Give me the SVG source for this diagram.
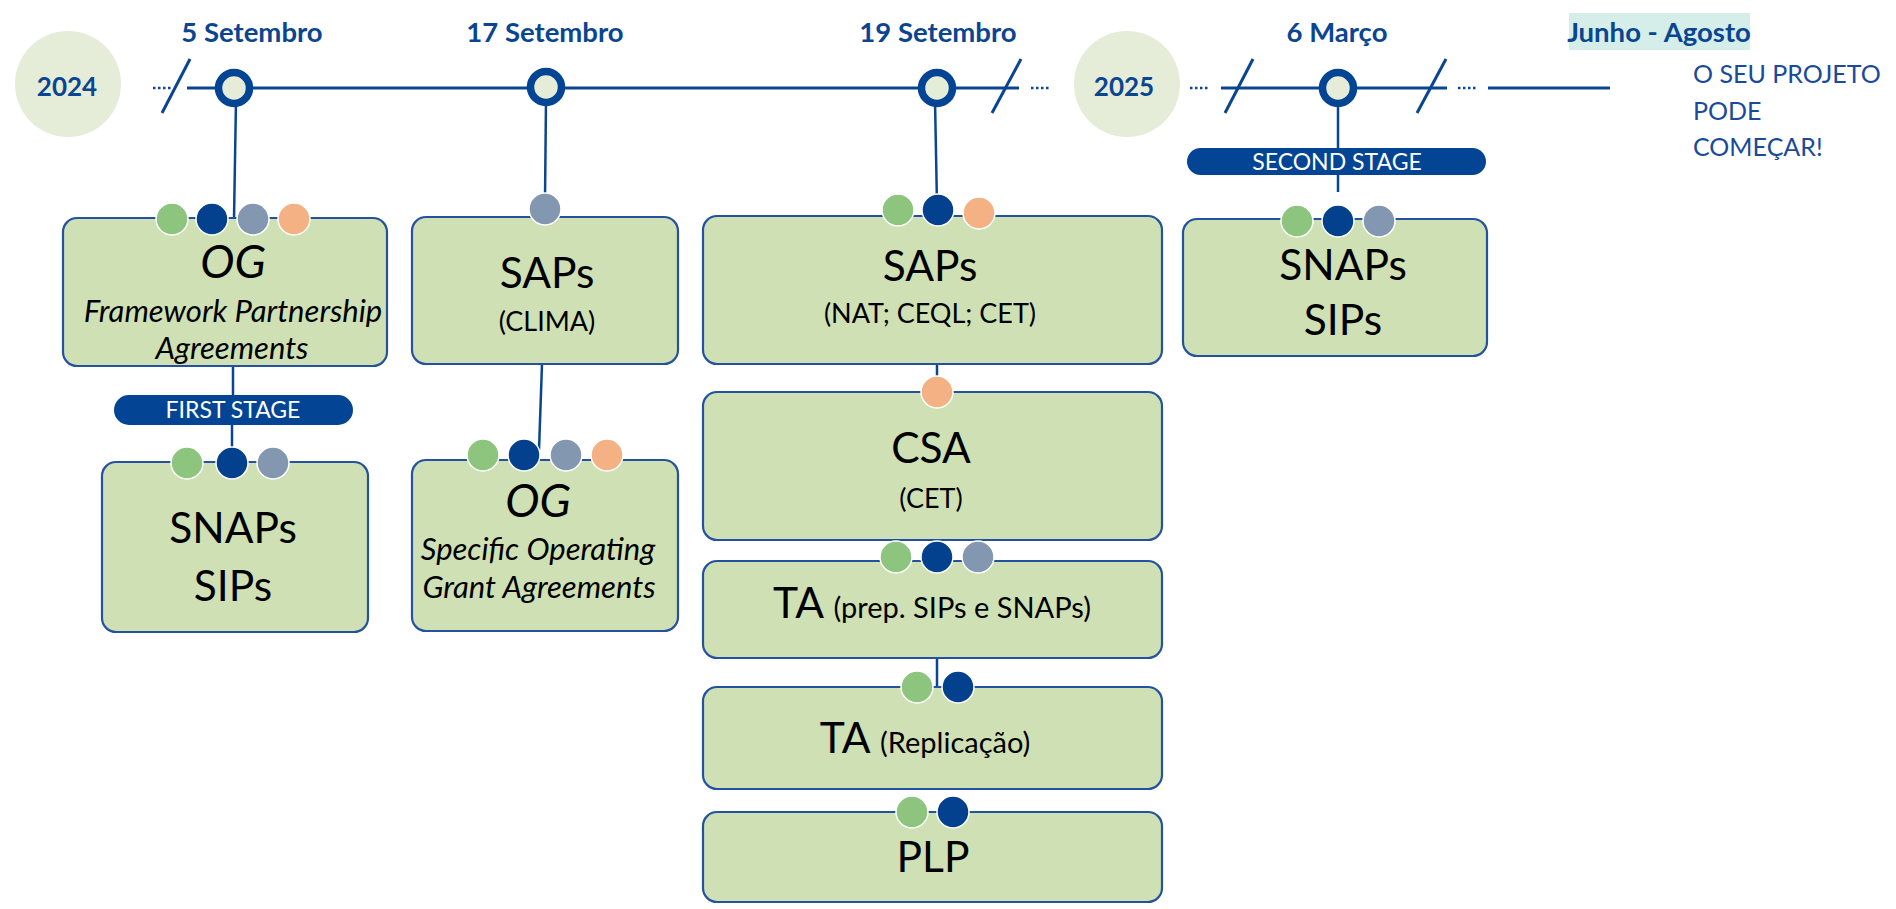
<svg xmlns="http://www.w3.org/2000/svg" width="1896" height="909" viewBox="0 0 1896 909">
<style>
.date{font-family:Lato,"Liberation Sans",sans-serif;font-weight:bold;font-size:27.5px;fill:#0A4592;text-anchor:middle}
.year{font-family:Lato,"Liberation Sans",sans-serif;font-weight:bold;font-size:26px;fill:#0A4592;text-anchor:middle}
.box{fill:#CFE0B4;stroke:#2452A0;stroke-width:2.2}
.big{font-family:Lato,"Liberation Sans",sans-serif;font-size:42.5px;fill:#000;text-anchor:middle}
.sub{font-family:Lato,"Liberation Sans",sans-serif;font-size:27px;fill:#000;text-anchor:middle}
.it{font-family:Lato,"Liberation Sans",sans-serif;font-style:italic;font-size:31px;fill:#000;text-anchor:middle}
.itbig{font-family:Lato,"Liberation Sans",sans-serif;font-style:italic;font-size:46px;fill:#000;text-anchor:middle}
.pill{fill:#034494}
.pilltxt{font-family:Lato,"Liberation Sans",sans-serif;font-size:23px;fill:#fff;text-anchor:middle}
.line{stroke:#0A4592;stroke-width:3;fill:none}
.conn{stroke:#0A4592;stroke-width:2.5;fill:none}
.dots{stroke:#0A4592;stroke-width:2.5;stroke-dasharray:2.5 2.5;fill:none}
.node{fill:#E5EDD8;stroke:#034494;stroke-width:7.5}
.g{fill:#8DC47E;stroke:#fff;stroke-width:1.5}
.b{fill:#03418F;stroke:#fff;stroke-width:1.5}
.s{fill:#8497B0;stroke:#fff;stroke-width:1.5}
.o{fill:#F4B183;stroke:#fff;stroke-width:1.5}
.note{font-family:Lato,"Liberation Sans",sans-serif;font-size:25px;fill:#1A4A9A}
</style>

<g id="timeline">
  <ellipse cx="68" cy="84" rx="53" ry="53" fill="#E5EDD8"/>
  <text class="year" x="67" y="96">2024</text>
  <ellipse cx="1127" cy="84" rx="53" ry="53" fill="#E5EDD8"/>
  <text class="year" x="1124" y="96">2025</text>
  <line class="dots" x1="153" y1="88" x2="173" y2="88"/>
  <line class="line" x1="190" y1="59" x2="162" y2="113"/>
  <line class="line" x1="187" y1="88" x2="1019" y2="88"/>
  <line class="line" x1="1021" y1="59" x2="992" y2="113"/>
  <line class="dots" x1="1031" y1="88" x2="1051" y2="88"/>
  <line class="dots" x1="1190" y1="88" x2="1210" y2="88"/>
  <line class="line" x1="1221" y1="88" x2="1447" y2="88"/>
  <line class="line" x1="1253" y1="59" x2="1225" y2="113"/>
  <line class="line" x1="1446" y1="59" x2="1417" y2="113"/>
  <line class="dots" x1="1458" y1="88" x2="1478" y2="88"/>
  <line class="line" x1="1488" y1="88" x2="1610" y2="88"/>
  <text class="date" x="252" y="42">5 Setembro</text>
  <text class="date" x="545" y="42">17 Setembro</text>
  <text class="date" x="938" y="42">19 Setembro</text>
  <text class="date" x="1337" y="42">6 Março</text>
  <rect x="1569" y="13" width="181" height="37" fill="#D5EEEA"/>
  <text class="date" x="1659" y="42">Junho - Agosto</text>
  <text class="note" x="1693" y="83">O SEU PROJETO</text>
  <text class="note" x="1693" y="120">PODE</text>
  <text class="note" x="1693" y="156">COMEÇAR!</text>
</g>

<g id="connectors">
  <line class="conn" x1="236" y1="100" x2="234" y2="219"/>
  <line class="conn" x1="233" y1="366" x2="233" y2="396"/>
  <line class="conn" x1="232" y1="424" x2="232" y2="455"/>
  <line class="conn" x1="546" y1="100" x2="545" y2="200"/>
  <line class="conn" x1="542" y1="364" x2="539" y2="450"/>
  <line class="conn" x1="935" y1="100" x2="937" y2="205"/>
  <line class="conn" x1="937" y1="364" x2="937" y2="385"/>
  <line class="conn" x1="937" y1="658" x2="937" y2="690"/>
  <line class="conn" x1="1338" y1="100" x2="1338" y2="149"/>
  <line class="conn" x1="1338" y1="174" x2="1338" y2="192"/>
</g>

<g id="nodes-timeline">
  <circle class="node" cx="234" cy="88" r="15.5"/>
  <circle class="node" cx="546" cy="87" r="15.5"/>
  <circle class="node" cx="937" cy="88" r="15.5"/>
  <circle class="node" cx="1338" cy="88" r="15.5"/>
</g>

<g id="og-framework">
  <rect class="box" x="63" y="218" width="324" height="148" rx="14"/>
  <circle class="g" cx="172" cy="219" r="16"/>
  <circle class="b" cx="212" cy="219" r="16"/>
  <circle class="s" cx="253" cy="219" r="16"/>
  <circle class="o" cx="294" cy="219" r="16"/>
  <text class="itbig" x="233" y="278">OG</text>
  <text class="it" x="233" y="322">Framework Partnership</text>
  <text class="it" x="232" y="359">Agreements</text>
</g>

<g id="first-stage">
  <rect class="pill" x="114" y="395" width="239" height="30" rx="15"/>
  <text class="pilltxt" x="233" y="418">FIRST STAGE</text>
</g>

<g id="snaps-1">
  <rect class="box" x="102" y="462" width="266" height="170" rx="14"/>
  <circle class="g" cx="187" cy="463" r="16"/>
  <circle class="b" cx="232" cy="463" r="16"/>
  <circle class="s" cx="273" cy="463" r="16"/>
  <text class="big" x="233" y="543">SNAPs</text>
  <text class="big" x="233" y="601">SIPs</text>
</g>

<g id="saps-clima">
  <rect class="box" x="412" y="217" width="266" height="147" rx="14"/>
  <circle class="s" cx="545" cy="209" r="16"/>
  <text class="big" x="547" y="288">SAPs</text>
  <text class="sub" x="547" y="331">(CLIMA)</text>
</g>

<g id="og-specific">
  <rect class="box" x="412" y="460" width="266" height="171" rx="14"/>
  <circle class="g" cx="483" cy="455" r="16"/>
  <circle class="b" cx="524" cy="455" r="16"/>
  <circle class="s" cx="566" cy="455" r="16"/>
  <circle class="o" cx="607" cy="455" r="16"/>
  <text class="itbig" x="538" y="517">OG</text>
  <text class="it" x="538" y="560">Specific Operating</text>
  <text class="it" x="539" y="598">Grant Agreements</text>
</g>

<g id="saps-nat">
  <rect class="box" x="703" y="216" width="459" height="148" rx="14"/>
  <circle class="g" cx="898" cy="210" r="16"/>
  <circle class="b" cx="938" cy="210" r="16"/>
  <circle class="o" cx="979" cy="213" r="16"/>
  <text class="big" x="930" y="281">SAPs</text>
  <text class="sub" x="930" y="323">(NAT; CEQL; CET)</text>
</g>

<g id="csa">
  <rect class="box" x="703" y="392" width="459" height="148" rx="14"/>
  <circle class="o" cx="937" cy="392" r="16"/>
  <text class="big" x="931" y="463">CSA</text>
  <text class="sub" x="931" y="508">(CET)</text>
</g>

<g id="ta-prep">
  <rect class="box" x="703" y="561" width="459" height="97" rx="14"/>
  <circle class="g" cx="896" cy="557" r="16"/>
  <circle class="b" cx="937" cy="557" r="16"/>
  <circle class="s" cx="978" cy="557" r="16"/>
  <text class="big" x="932" y="618">TA <tspan font-size="29">(prep. SIPs e SNAPs)</tspan></text>
</g>

<g id="ta-replicacao">
  <rect class="box" x="703" y="687" width="459" height="102" rx="14"/>
  <circle class="g" cx="917" cy="687" r="16"/>
  <circle class="b" cx="958" cy="687" r="16"/>
  <text class="big" x="925" y="753">TA <tspan font-size="29">(Replicação)</tspan></text>
</g>

<g id="plp">
  <rect class="box" x="703" y="812" width="459" height="90" rx="14"/>
  <circle class="g" cx="912" cy="812" r="16"/>
  <circle class="b" cx="953" cy="812" r="16"/>
  <text class="big" x="933" y="872">PLP</text>
</g>

<g id="second-stage">
  <rect class="pill" x="1187" y="148" width="299" height="27" rx="13.5"/>
  <text class="pilltxt" x="1337" y="170">SECOND STAGE</text>
</g>

<g id="snaps-2">
  <rect class="box" x="1183" y="219" width="304" height="137" rx="14"/>
  <circle class="g" cx="1297" cy="221" r="16"/>
  <circle class="b" cx="1338" cy="221" r="16"/>
  <circle class="s" cx="1379" cy="221" r="16"/>
  <text class="big" x="1343" y="280">SNAPs</text>
  <text class="big" x="1343" y="335">SIPs</text>
</g>
</svg>
